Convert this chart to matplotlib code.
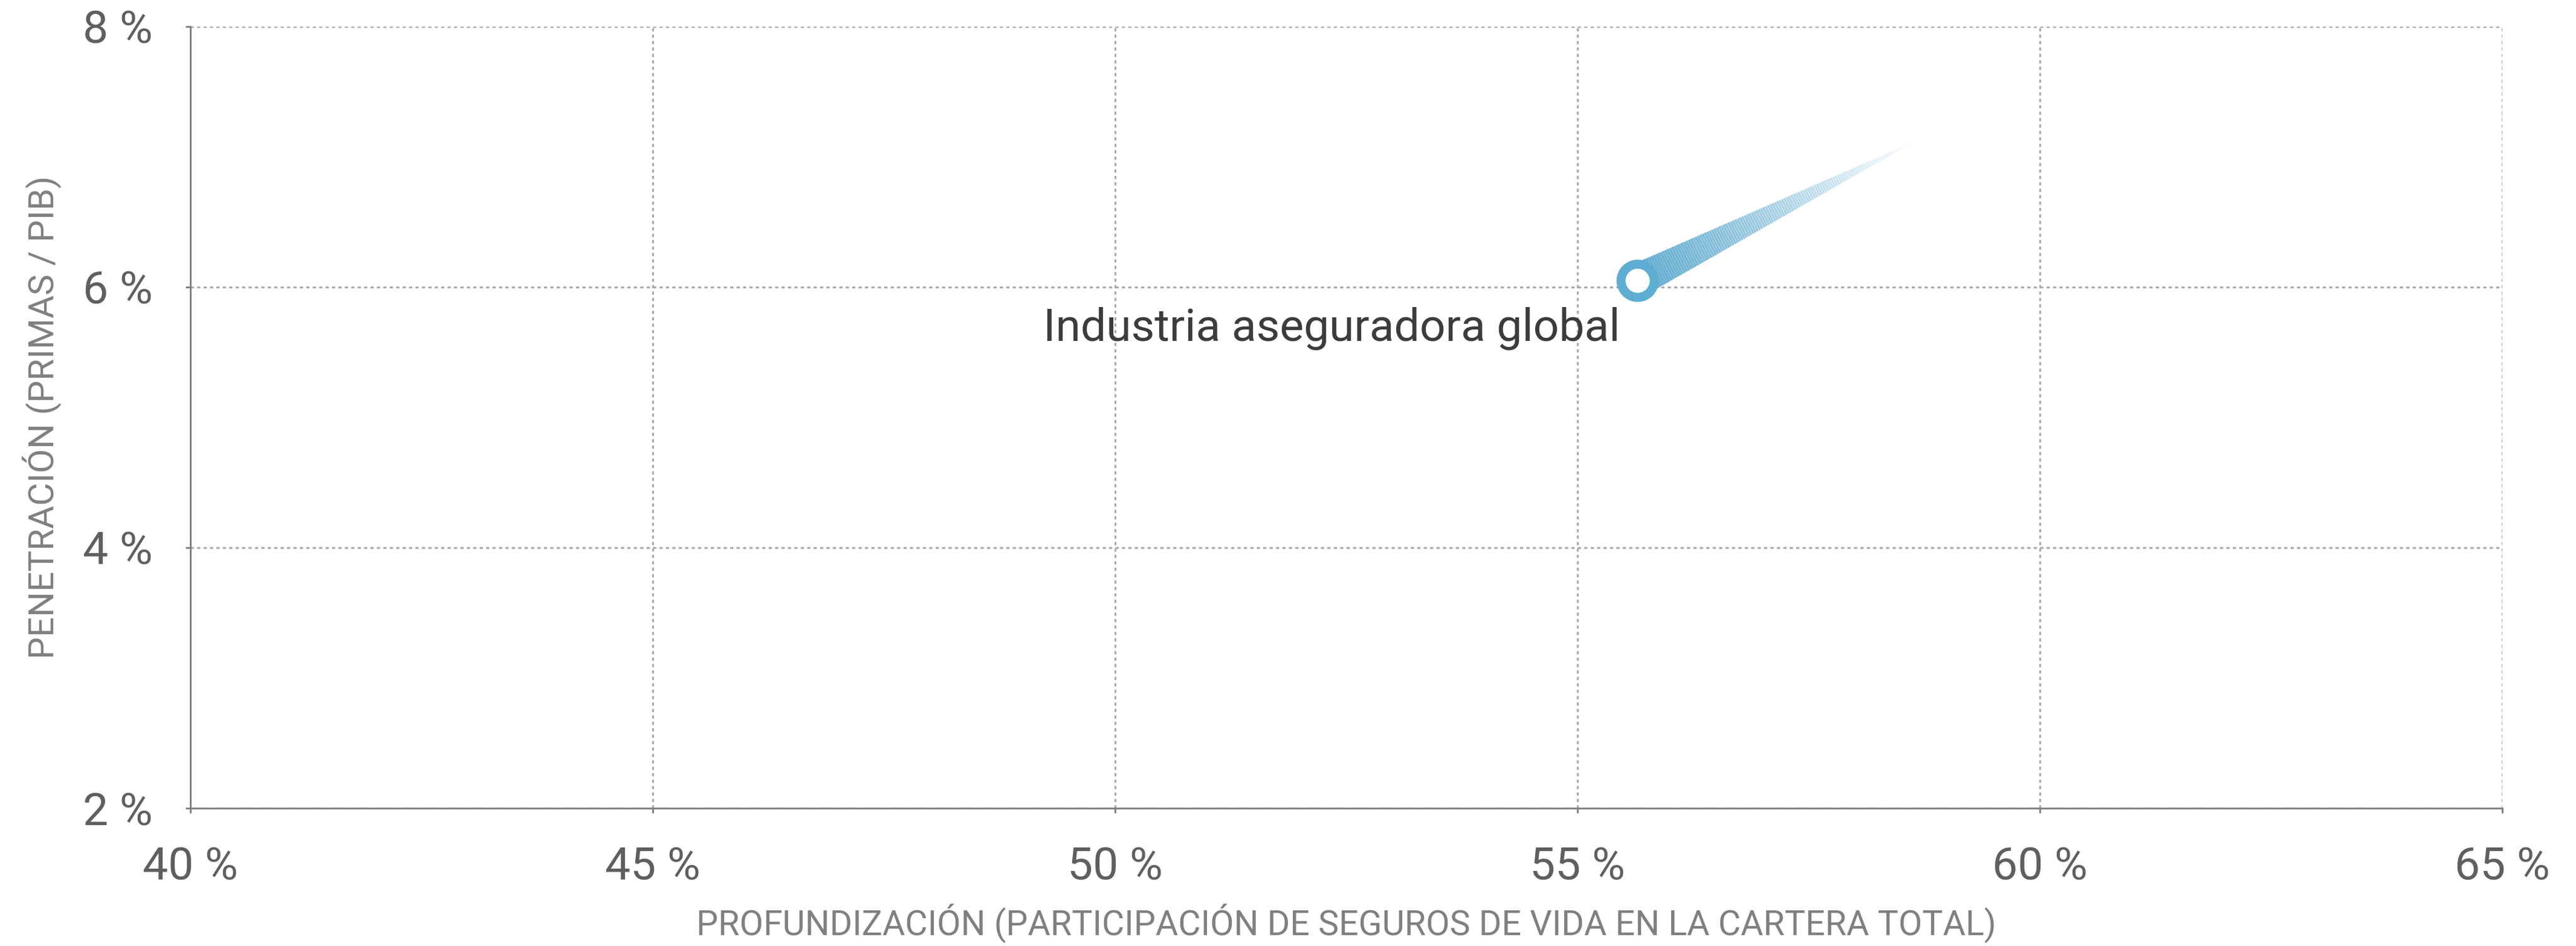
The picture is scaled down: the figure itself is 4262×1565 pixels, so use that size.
import numpy as np
import matplotlib
matplotlib.use("Agg")
import matplotlib.pyplot as plt
from matplotlib.collections import PolyCollection
from matplotlib import colors as mcolors

# datos del grafico (lectura aproximada)
etiquetas = ["Industria aseguradora global"]
profundizacion = [55.65]     # % vida en cartera total, posicion actual
penetracion = [6.05]         # primas / PIB, posicion actual
profundizacion_prev = [58.6] # posicion anterior (cola)
penetracion_prev = [7.1]

xticks = [40, 45, 50, 55, 60, 65]
yticks = [2, 4, 6, 8]

plt.rcParams["font.family"] = ["Roboto", "DejaVu Sans"]

fig = plt.figure(figsize=(4262 / 300, 1565 / 300), dpi=300)
ax = fig.add_axes([315 / 4262, 1 - 1337 / 1565, (4140 - 315) / 4262, (1337 - 43.5) / 1565])

ax.set_xlim(40, 65)
ax.set_ylim(2, 8)
ax.set_xticks(xticks)
ax.set_yticks(yticks)
ax.set_xticklabels([f"{v} %" for v in xticks])
ax.set_yticklabels([f"{v} %" for v in yticks])

ax.grid(True, color="#aaaaaa", linewidth=0.75, linestyle=(0, (1.7, 1.7)))
ax.set_axisbelow(True)
for s in ["top", "right"]:
    ax.spines[s].set_visible(False)
for s in ["left", "bottom"]:
    ax.spines[s].set_color("#808080")
    ax.spines[s].set_linewidth(0.7)
ax.tick_params(length=2, width=0.7, color="#808080", labelsize=18, labelcolor="#5f5f5f", pad=13)

ax.set_xlabel("PROFUNDIZACIÓN (PARTICIPACIÓN DE SEGUROS DE VIDA EN LA CARTERA TOTAL)",
              fontsize=13.75, color="#808080")
ax.set_ylabel("PENETRACIÓN (PRIMAS / PIB)", fontsize=14, color="#808080")
ax.xaxis.set_label_coords(0.5, -0.122)
ax.yaxis.set_label_coords(-0.0557, 0.5)

# cola con degradado (en pixeles, para que sea recta en pantalla)
azul = "#5eaed3"
rgb = np.array(mcolors.to_rgb("#5aa8cc"))
n = 120
for i in range(len(etiquetas)):
    p0 = ax.transData.transform((profundizacion[i], penetracion[i]))
    p1 = ax.transData.transform((profundizacion_prev[i], penetracion_prev[i]))
    d = p1 - p0
    perp = np.array([-d[1], d[0]]) / np.hypot(*d)
    hw = 27  # media anchura en px en la base
    polys, cols = [], []
    for k in range(n):
        t0, t1 = k / n, (k + 1) / n
        a0 = p0 + d * t0
        a1 = p0 + d * t1
        w0 = hw * (1 - t0)
        w1 = hw * (1 - t1)
        quad = np.array([a0 + perp * w0, a1 + perp * w1, a1 - perp * w1, a0 - perp * w0])
        quad = ax.transData.inverted().transform(quad)
        polys.append(quad)
        tm = (t0 + t1) / 2
        alpha = 0.85 * (1 - tm) ** 1.3 + 0.05
        cols.append(tuple(rgb) + (alpha,))
    pc = PolyCollection(polys, facecolors=cols, edgecolors="none", antialiased=False, zorder=3)
    ax.add_collection(pc)

ax.plot(profundizacion, penetracion, "o", ms=13.2, mew=3.6, mec=azul, mfc="white", zorder=4)

for i, lab in enumerate(etiquetas):
    ax.annotate(lab, (profundizacion[i], penetracion[i]), xytext=(-7, -24),
                textcoords="offset points", ha="right", va="baseline",
                fontsize=18, color="#3c3c3c", zorder=5)

fig.savefig("out.png", dpi=300)
